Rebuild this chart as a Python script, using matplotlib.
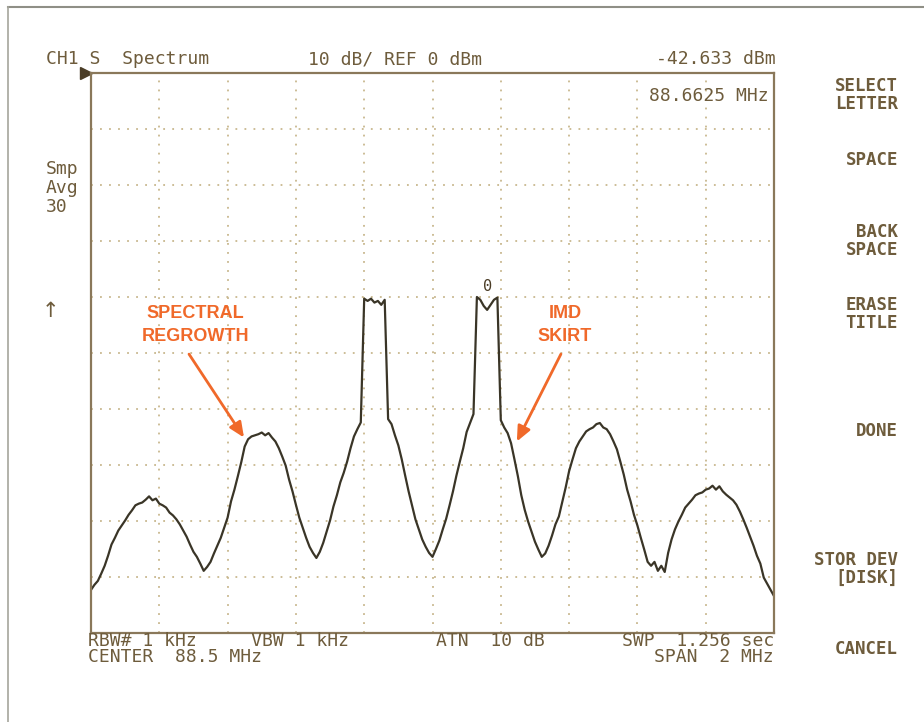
import numpy as np
import matplotlib.pyplot as plt
from matplotlib.lines import Line2D

# sweep: 201 points across 87.5 - 89.5 MHz (center 88.5, span 2 MHz)
freq = np.linspace(87.5, 89.5, 201)

# trace level in dBm, one value per sweep point
level = [
    -92.3, -91.4, -90.7, -89.4, -88.0, -86.2, -84.2, -83.0, -81.7, -80.8,
    -79.9, -78.9, -78.1, -77.2, -76.9, -76.7, -76.2, -75.6, -76.3, -76.0,
    -76.9, -77.2, -77.6, -78.5, -79.0, -79.7, -80.6, -81.7, -82.8, -84.2,
    -85.5, -86.4, -87.6, -88.9, -88.2, -87.3, -85.8, -84.4, -83.0, -81.2,
    -79.4, -76.5, -74.4, -72.0, -69.5, -66.7, -65.4, -64.9, -64.7, -64.5,
    -64.2, -64.7, -64.3, -65.1, -65.8, -67.0, -68.5, -70.1, -72.6, -74.7,
    -77.1, -79.4, -81.2, -83.0, -84.6, -85.7, -86.6, -85.5, -83.9, -81.9,
    -79.9, -77.4, -75.4, -73.1, -71.4, -69.4, -67.0, -64.9, -63.6, -62.4,
    -40.3, -40.7, -40.3, -41.0, -40.7, -41.4, -40.5, -61.8, -62.7, -64.7,
    -66.5, -69.0, -71.9, -74.7, -77.2, -79.7, -81.5, -83.3, -84.6, -85.7,
    -86.4, -85.0, -83.5, -81.5, -79.6, -77.2, -74.7, -71.9, -69.4, -67.0,
    -64.1, -62.5, -60.9, -40.0, -40.5, -41.6, -42.3, -41.4, -40.5, -40.1,
    -62.0, -63.3, -64.3, -66.1, -69.0, -72.0, -75.4, -78.0, -80.1, -81.9,
    -83.7, -85.1, -86.4, -85.8, -84.4, -82.6, -80.6, -79.2, -76.6, -74.0,
    -71.1, -69.0, -67.0, -65.8, -64.9, -64.0, -63.6, -63.3, -62.7, -62.5,
    -63.3, -63.6, -64.5, -65.8, -67.2, -69.4, -71.7, -74.4, -76.5, -78.9,
    -80.8, -83.0, -85.1, -87.3, -88.0, -87.3, -88.9, -88.0, -89.1, -85.7,
    -83.3, -81.5, -80.1, -78.9, -77.6, -76.9, -76.2, -75.4, -75.1, -74.9,
    -74.4, -74.2, -73.7, -74.4, -73.8, -74.7, -75.3, -75.8, -76.3, -77.1,
    -78.3, -79.7, -81.2, -82.8, -84.4, -86.2, -87.6, -90.1, -91.2, -92.3,
    -93.4,
]

marker_freq = 88.6625
marker_level = -42.633

menu = ["SELECT\nLETTER", "SPACE", "BACK\nSPACE", "ERASE\nTITLE", "DONE",
        "STOR DEV\n[DISK]", "CANCEL"]
menu_y = [95, 160, 241, 314, 431, 569, 649]

W, H = 924, 722
txt = '#6e5c3c'
frame = '#8a785a'
grid = '#c8b78e'
orange = '#f0692a'
mono = 'DejaVu Sans Mono'

fig = plt.figure(figsize=(W / 100, H / 100), dpi=100, facecolor='white')


def px(x, y):
    return x / W, 1 - y / H


ax = fig.add_axes([91 / W, 1 - 633 / H, 683 / W, 560 / H])
ax.plot(freq, level, color='#3a3527', lw=1.6)
ax.set_xlim(87.5, 89.5)
ax.set_ylim(-100, 0)
ax.set_xticks(np.linspace(87.5, 89.5, 11))
ax.set_yticks(np.arange(-100, 1, 10))
ax.tick_params(length=0, labelbottom=False, labelleft=False)
ax.grid(True, color=grid, lw=1.3, linestyle=(0, (1, 4)))
for s in ax.spines.values():
    s.set_color(frame)
    s.set_linewidth(1.6)

# reference level pointer
ax.plot([-0.008], [1.0], marker='>', ms=9, color='#4a3c26',
        transform=ax.transAxes, clip_on=False)

# marker readout
ax.text(marker_freq, -38.2, '0', ha='center', va='center', fontsize=11,
        family=mono, color='#4a3c26')

# annotations
ax.text(87.805, -45.0, 'SPECTRAL\nREGROWTH', ha='center', va='center',
        fontsize=13, fontweight='bold', family='Liberation Sans',
        color=orange, linespacing=1.45)
ax.annotate('', xy=(87.948, -65.1), xytext=(87.787, -50.2),
            arrowprops=dict(arrowstyle='-|>,head_length=0.9,head_width=0.4',
                            lw=2, color=orange, shrinkA=0, shrinkB=0))
ax.text(88.888, -45.0, 'IMD\nSKIRT', ha='center', va='center',
        fontsize=13, fontweight='bold', family='Liberation Sans',
        color=orange, linespacing=1.45)
ax.annotate('', xy=(88.747, -65.8), xytext=(88.876, -50.2),
            arrowprops=dict(arrowstyle='-|>,head_length=0.9,head_width=0.4',
                            lw=2, color=orange, shrinkA=0, shrinkB=0))

# header
kw = dict(family=mono, color=txt, fontsize=13, va='center')
fig.text(*px(46, 59), 'CH1 S  Spectrum', ha='left', **kw)
fig.text(*px(308, 59), '10 dB/ REF 0 dBm', ha='left', **kw)
fig.text(*px(776, 59), '%.3f dBm' % marker_level, ha='right', **kw)
fig.text(*px(769, 96), '%.4f MHz' % marker_freq, ha='right', **kw)

# left side
fig.text(*px(46, 188), 'Smp\nAvg\n30', ha='left', linespacing=1.05, **kw)
fig.text(*px(50, 311), '\u2191', ha='center', family='DejaVu Sans',
         color=txt, fontsize=15, va='center')

# footer (monospaced columns, like the instrument screen)
fig.text(*px(88, 649),
         'RBW# 1 kHz     VBW 1 kHz        ATN  10 dB\nCENTER  88.5 MHz',
         ha='left', linespacing=0.92, **kw)
fig.text(*px(774, 649), 'SWP  1.256 sec\nSPAN  2 MHz', ha='right',
         multialignment='right', linespacing=0.92, **kw)

# softkey menu
for label, y in zip(menu, menu_y):
    fig.text(*px(898, y), label, ha='right', va='center', family=mono,
             fontweight='bold', fontsize=12.5, color=txt, linespacing=1.0)

# photo border
fig.add_artist(Line2D([8 / W, 1], [1 - 7 / H, 1 - 7 / H], color='#8f8f86', lw=1.5))
fig.add_artist(Line2D([8 / W, 8 / W], [0, 1 - 7 / H], color='#a5a59c', lw=1.2))

fig.savefig('out.png', dpi=100, facecolor='white')
